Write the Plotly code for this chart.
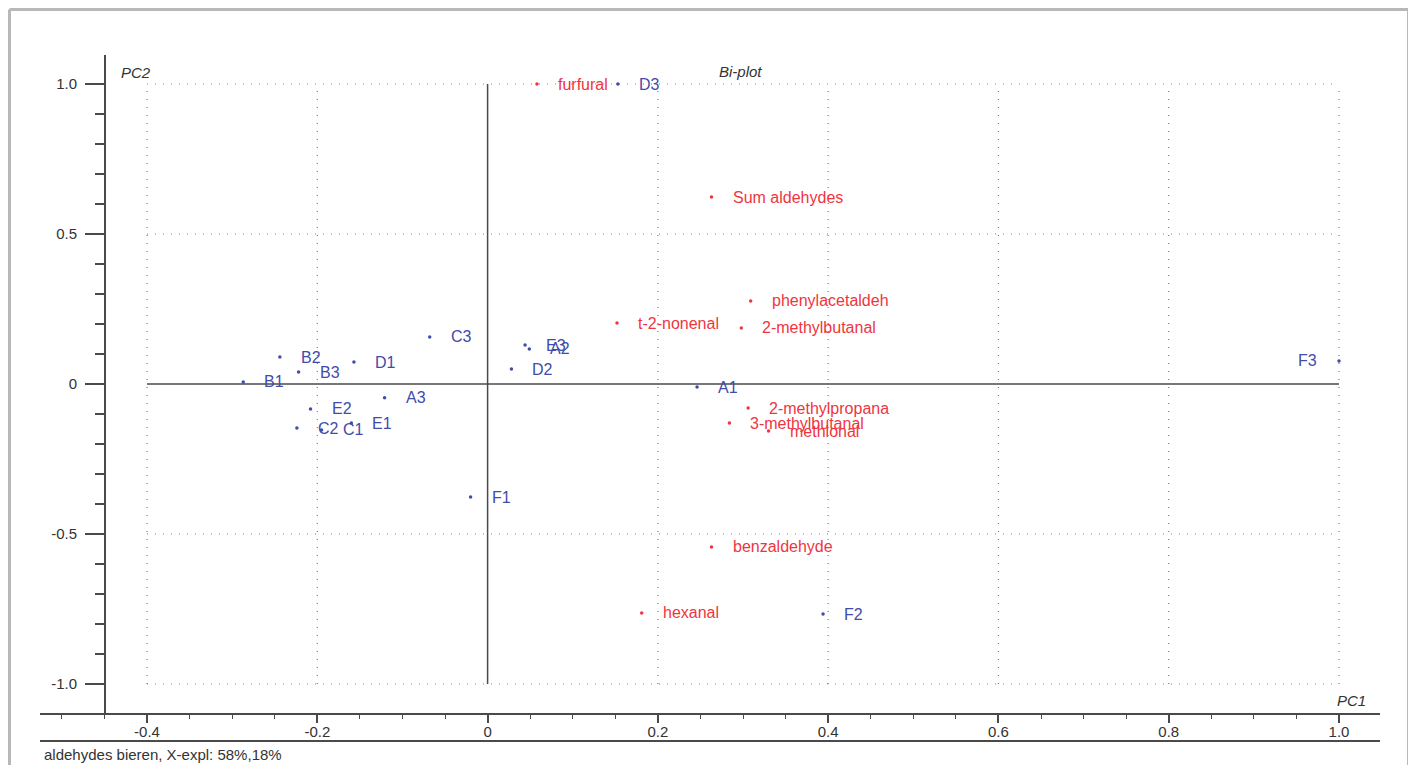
import plotly.graph_objects as go

# ---------------- data ----------------
sample_labels = ["A1", "A2", "A3", "B1", "B2", "B3", "C1", "C2", "C3",
                 "D1", "D2", "D3", "E1", "E2", "E3", "F1", "F2", "F3"]
sample_pc1 = [0.246, 0.049, -0.121, -0.287, -0.244, -0.222, -0.195, -0.224, -0.068,
              -0.157, 0.028, 0.153, -0.160, -0.208, 0.044, -0.020, 0.394, 1.0]
sample_pc2 = [-0.010, 0.117, -0.046, 0.007, 0.090, 0.040, -0.153, -0.147, 0.157,
              0.073, 0.050, 1.0, -0.130, -0.083, 0.130, -0.377, -0.767, 0.077]

var_labels = ["furfural", "Sum aldehydes", "phenylacetaldeh", "2-methylbutanal",
              "t-2-nonenal", "2-methylpropana", "3-methylbutanal", "methional",
              "benzaldehyde", "hexanal"]
var_pc1 = [0.058, 0.263, 0.309, 0.298, 0.152, 0.306, 0.284, 0.330, 0.263, 0.181]
var_pc2 = [1.0, 0.623, 0.277, 0.187, 0.203, -0.080, -0.130, -0.157, -0.543, -0.763]

x_tickvals = [-0.4, -0.2, 0, 0.2, 0.4, 0.6, 0.8, 1.0]
x_ticktext = ["-0.4", "-0.2", "0", "0.2", "0.4", "0.6", "0.8", "1.0"]
y_tickvals = [1.0, 0.5, 0, -0.5, -1.0]
y_ticktext = ["1.0", "0.5", "0", "-0.5", "-1.0"]

title_text = "Bi-plot"
x_title = "PC1"
y_title = "PC2"
caption = "aldehydes bieren, X-expl: 58%,18%"

# ---------------- style ----------------
BLUE = "#3f4caa"
RED = "#ef3540"
AXIS = "#4a4a4a"
FONT = "Liberation Sans, Arial, sans-serif"
OFF = 8  # default page body margin
W, H = 1416 - OFF, 765 - OFF
# target plot area on the page: x 40..1380, y 55..713
ML, MT = 40 - OFF, 55 - OFF
PW, PH = 1340, 658
MR, MB = W - ML - PW, H - MT - PH


def px_x(px):
    return (px - OFF - ML) / PW


def px_y(py):
    return (MT + PH - (py - OFF)) / PH


fig = go.Figure()
fig.add_trace(go.Scatter(x=sample_pc1, y=sample_pc2, mode="markers",
                         marker=dict(size=3.5, color=BLUE), hoverinfo="text",
                         text=sample_labels, showlegend=False))
fig.add_trace(go.Scatter(x=var_pc1, y=var_pc2, mode="markers",
                         marker=dict(size=3.5, color=RED), hoverinfo="text",
                         text=var_labels, showlegend=False))

annotations = []
for lab, x, y in zip(sample_labels, sample_pc1, sample_pc2):
    right_edge = x > 0.95
    annotations.append(dict(x=x, y=y, xref="x", yref="y", text=lab, showarrow=False,
                            xanchor="right" if right_edge else "left", yanchor="middle",
                            xshift=-20 if right_edge else 19,
                            font=dict(family=FONT, size=16, color=BLUE)))
for lab, x, y in zip(var_labels, var_pc1, var_pc2):
    annotations.append(dict(x=x, y=y, xref="x", yref="y", text=lab, showarrow=False,
                            xanchor="left", yanchor="middle", xshift=19,
                            font=dict(family=FONT, size=16, color=RED)))

annotations += [
    dict(x=px_x(119), y=px_y(72), xref="paper", yref="paper", text="<i>" + y_title + "</i>",
         showarrow=False, xanchor="left", yanchor="middle",
         font=dict(family=FONT, size=15, color="#333")),
    dict(x=px_x(717), y=px_y(71), xref="paper", yref="paper", text="<i>" + title_text + "</i>",
         showarrow=False, xanchor="left", yanchor="middle",
         font=dict(family=FONT, size=15, color="#333")),
    dict(x=px_x(1368), y=px_y(700), xref="paper", yref="paper", text="<i>" + x_title + "</i>",
         showarrow=False, xanchor="right", yanchor="middle",
         font=dict(family=FONT, size=15, color="#333")),
    dict(x=px_x(42), y=px_y(754), xref="paper", yref="paper", text=caption,
         showarrow=False, xanchor="left", yanchor="middle",
         font=dict(family=FONT, size=15, color="#333")),
]

shapes = []
grid_x = [v for v in x_tickvals if v != 0]
grid_y = [v for v in y_tickvals if v != 0]
xmin, xmax = x_tickvals[0], x_tickvals[-1]
ymin, ymax = y_tickvals[-1], y_tickvals[0]
dot = dict(color="#7a7a7a", width=1.2, dash="1px,7px")
for gx in grid_x:
    shapes.append(dict(type="line", xref="x", yref="y", x0=gx, x1=gx, y0=ymin, y1=ymax,
                       line=dot, layer="below"))
for gy in grid_y:
    shapes.append(dict(type="line", xref="x", yref="y", x0=xmin, x1=xmax, y0=gy, y1=gy,
                       line=dot, layer="below"))
# solid origin lines
shapes.append(dict(type="line", xref="x", yref="y", x0=0, x1=0, y0=ymin, y1=ymax,
                   line=dict(color=AXIS, width=1.5), layer="below"))
shapes.append(dict(type="line", xref="x", yref="y", x0=xmin, x1=xmax, y0=0, y1=0,
                   line=dict(color=AXIS, width=1.5), layer="below"))
# lower line under tick labels
shapes.append(dict(type="line", xref="paper", yref="paper", x0=0, x1=1,
                   y0=px_y(741), y1=px_y(741), line=dict(color=AXIS, width=2)))
# outer frame (left, top, right edges)
frame = dict(color="#b8b8b8", width=3)
fl, ft, fr, fb = 9.5, 9.5, 1408.5, 770
shapes.append(dict(type="line", xref="paper", yref="paper", x0=px_x(fl), x1=px_x(fl),
                   y0=px_y(fb), y1=px_y(ft), line=frame))
shapes.append(dict(type="line", xref="paper", yref="paper", x0=px_x(fl), x1=px_x(fr),
                   y0=px_y(ft), y1=px_y(ft), line=frame))
shapes.append(dict(type="line", xref="paper", yref="paper", x0=px_x(fr), x1=px_x(fr),
                   y0=px_y(fb), y1=px_y(ft), line=frame))

# data -> pixel scale of the reference (x: 0 at 487.6 px, 851.4 px/unit; y: 0 at 384 px, 300 px/unit)
x_lo = (40 - 487.6) / 851.4
x_hi = (1380 - 487.6) / 851.4
y_lo = (384 - 713) / 300
y_hi = (384 - 55) / 300

fig.update_layout(
    width=W, height=H,
    margin=dict(l=ML, r=MR, t=MT, b=MB),
    paper_bgcolor="white", plot_bgcolor="white",
    font=dict(family=FONT, size=15, color="#333"),
    annotations=annotations, shapes=shapes,
    xaxis=dict(range=[x_lo, x_hi],
               domain=[0, 1], showgrid=False, zeroline=False,
               showline=True, linecolor=AXIS, linewidth=2,
               ticks="outside", ticklen=8, tickwidth=1.5, tickcolor=AXIS,
               tickmode="array", tickvals=x_tickvals, ticktext=x_ticktext,
               ticklabelstandoff=-4,
               tickfont=dict(family=FONT, size=15, color="#333"),
               minor=dict(ticks="outside", ticklen=4, tickwidth=1.2, tickcolor=AXIS,
                          tickmode="linear", tick0=0, dtick=0.05, showgrid=False),
               fixedrange=True),
    yaxis=dict(range=[y_lo, y_hi],
               anchor="free", position=px_x(105), showgrid=False, zeroline=False,
               showline=True, linecolor=AXIS, linewidth=2,
               ticks="outside", ticklen=19, tickwidth=1.5, tickcolor=AXIS,
               tickmode="array", tickvals=y_tickvals, ticktext=y_ticktext,
               ticklabelstandoff=5,
               tickfont=dict(family=FONT, size=15, color="#333"),
               minor=dict(ticks="outside", ticklen=9, tickwidth=1.5, tickcolor=AXIS,
                          tickmode="linear", tick0=0, dtick=0.1, showgrid=False),
               fixedrange=True),
)

fig.write_html("out.html")
